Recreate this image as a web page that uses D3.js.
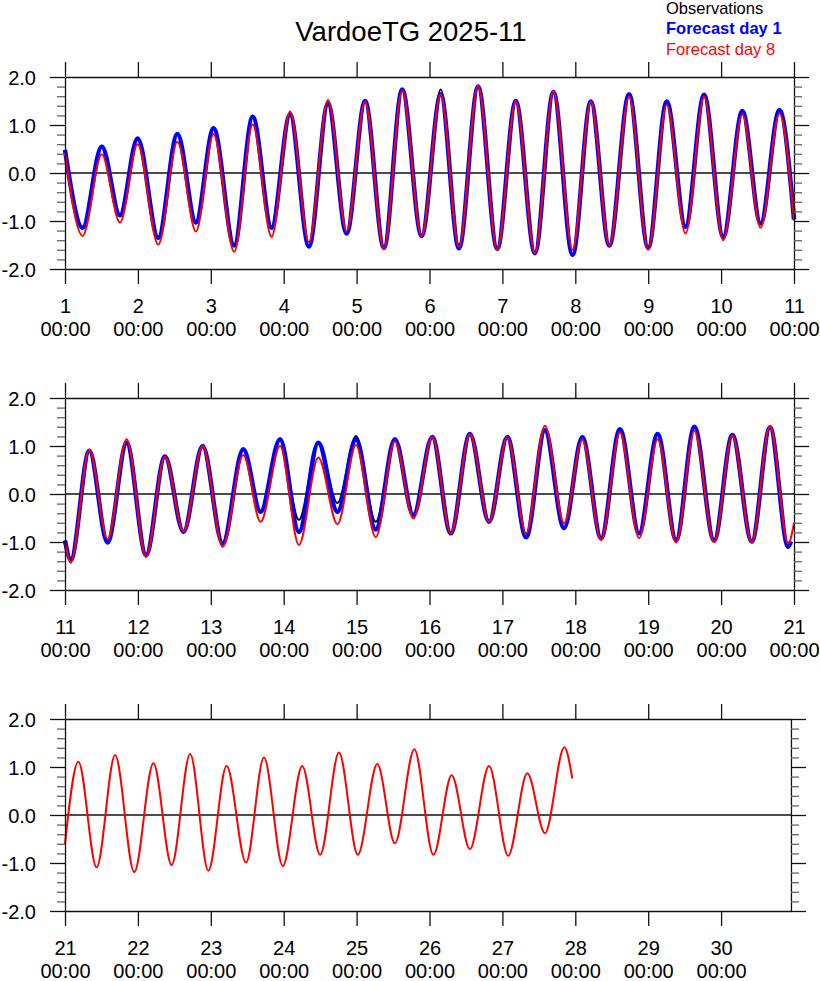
<!DOCTYPE html>
<html>
<head>
<meta charset="utf-8">
<script src="https://cdn.jsdelivr.net/npm/d3@7"></script>
<style>
  html, body { margin: 0; padding: 0; background: #fff; }
  svg { display: block; font-family: "Liberation Sans", Arial, Helvetica, sans-serif; }
  .axis path, .axis line { stroke: #111; stroke-width: 1.3px; }
  .minor line { stroke: #666; stroke-width: 1.3px; }
  .minor path { display: none; }
</style>
</head>
<body>
<script>
// ---------------- DATA (hours since 2025-11-01 00:00, sea level in m) ----------------
const titleText = "VardoeTG 2025-11";
const legendLabels = ["Observations", "Forecast day 1", "Forecast day 8"];
const yTickValues = [-2, -1, 0, 1, 2];
const yTickLabels = ["-2.0", "-1.0", "0.0", "1.0", "2.0"];
const yMinorValues = [-1.8,-1.6,-1.4,-1.2,-0.8,-0.6,-0.4,-0.2,0.2,0.4,0.6,0.8,1.2,1.4,1.6,1.8];
const timeLabel = "00:00";

// turning points (high / low water)
const observations = [
  [0,0.48],[5.8,-1.14],[12.1,0.55],[18.1,-0.88],[23.9,0.72],[30.7,-1.35],[37.0,0.81],[43.1,-1.03],
  [48.9,0.93],[55.7,-1.51],[61.8,1.17],[68.0,-1.14],[74.1,1.22],[80.3,-1.53],[86.6,1.45],[92.7,-1.26],
  [98.8,1.50],[105.0,-1.56],[111.0,1.74],[117.4,-1.31],[123.7,1.74],[129.7,-1.50],[136.0,1.80],[142.3,-1.58],
  [148.4,1.50],[154.7,-1.67],[160.8,1.69],[167.1,-1.71],[173.1,1.49],[179.2,-1.51],[185.7,1.64],[192.0,-1.56],
  [198.1,1.49],[204.3,-1.12],[210.4,1.63],[216.7,-1.33],[223.0,1.29],[229.0,-1.05],[235.2,1.31],[240,-0.97],
  [241.9,-1.37],[248.0,0.90],[254.0,-1.01],[260.3,1.06],[266.7,-1.27],[272.9,0.78],[279.0,-0.79],[285.3,1.00],
  [291.9,-1.03],[298.7,0.93],[304.4,-0.37],[310.8,1.14],[317.0,-0.54],[323.4,1.09],[329.7,-0.19],[335.8,1.21],
  [342.3,-0.58],[348.6,1.14],[354.7,-0.44],[360.9,1.19],[367.0,-0.82],[373.3,1.25],[379.6,-0.58],[385.6,1.19],
  [391.8,-0.90],[398.0,1.33],[404.3,-0.71],[410.3,1.18],[416.5,-0.92],[422.7,1.35],[429.0,-0.82],[435.1,1.25],
  [441.2,-0.96],[447.2,1.40],[453.7,-0.97],[459.7,1.23],[466.1,-0.99],[472.1,1.39],[478.1,-1.10],[479,-0.99]
];
const forecastDay1 = [
  [0,0.48],[5.8,-1.14],[12.1,0.55],[18.1,-0.88],[23.9,0.72],[30.7,-1.35],[37.0,0.81],[43.1,-1.03],
  [48.9,0.93],[55.7,-1.51],[61.8,1.17],[68.0,-1.14],[74.1,1.22],[80.3,-1.53],[86.6,1.45],[92.7,-1.26],
  [98.8,1.50],[105.0,-1.56],[111.0,1.74],[117.4,-1.31],[123.7,1.64],[129.7,-1.57],[136.0,1.80],[142.3,-1.58],
  [148.4,1.50],[154.7,-1.67],[160.8,1.69],[167.1,-1.71],[173.1,1.49],[179.2,-1.51],[185.7,1.64],[192.0,-1.56],
  [198.1,1.49],[204.3,-1.12],[210.4,1.63],[216.7,-1.33],[223.0,1.29],[229.0,-1.05],[235.2,1.31],[240,-0.97],
  [241.9,-1.37],[248.0,0.90],[254.0,-1.01],[260.3,1.06],[266.7,-1.27],[272.9,0.78],[279.0,-0.79],[285.3,1.00],
  [291.9,-1.03],[298.7,0.93],[304.4,-0.37],[310.8,1.14],[317.0,-0.79],[323.4,1.07],[329.7,-0.37],[335.8,1.14],
  [342.3,-0.74],[348.6,1.14],[354.7,-0.44],[360.9,1.19],[367.0,-0.82],[373.3,1.25],[379.6,-0.58],[385.6,1.19],
  [391.8,-0.90],[398.0,1.33],[404.3,-0.71],[410.3,1.18],[416.5,-0.92],[422.7,1.35],[429.0,-0.82],[435.1,1.25],
  [441.2,-0.96],[447.2,1.40],[453.7,-0.97],[459.7,1.23],[466.1,-0.99],[472.1,1.39],[478.1,-1.10],[479,-0.99]
];
const forecastDay8 = [
  [0,0.42],[5.8,-1.31],[12.1,0.39],[18.1,-1.03],[23.9,0.60],[30.7,-1.49],[37.0,0.65],[43.1,-1.22],
  [48.9,0.81],[55.7,-1.64],[61.8,1.01],[68.0,-1.33],[74.1,1.28],[80.3,-1.44],[86.6,1.52],[92.7,-1.21],
  [98.8,1.49],[105.0,-1.59],[111.0,1.72],[117.4,-1.31],[123.7,1.64],[129.7,-1.54],[136.0,1.82],[142.3,-1.60],
  [148.4,1.50],[154.7,-1.67],[160.8,1.71],[167.1,-1.60],[173.1,1.49],[179.2,-1.51],[185.7,1.59],[192.0,-1.60],
  [198.1,1.42],[204.3,-1.26],[210.4,1.59],[216.7,-1.40],[223.0,1.22],[229.0,-1.14],[235.2,1.24],[240,-0.99],
  [241.9,-1.43],[248.0,0.92],[254.0,-0.94],[260.3,1.14],[266.7,-1.31],[272.9,0.78],[279.0,-0.79],[285.3,1.00],
  [291.9,-1.10],[298.7,0.81],[304.4,-0.58],[310.8,1.00],[317.0,-1.06],[323.4,0.76],[329.7,-0.63],[335.8,1.02],
  [342.3,-0.90],[348.6,1.10],[354.7,-0.51],[360.9,1.19],[367.0,-0.82],[373.3,1.25],[379.6,-0.58],[385.6,1.19],
  [391.8,-0.82],[398.0,1.42],[404.3,-0.61],[410.3,1.13],[416.5,-0.96],[422.7,1.28],[429.0,-0.92],[435.1,1.14],
  [441.2,-1.01],[447.2,1.32],[453.7,-1.00],[459.7,1.22],[466.1,-1.01],[472.1,1.42],[478.1,-1.03],[480,-0.60],
  [484.4,1.11],[490.4,-1.09],[496.5,1.25],[502.8,-1.19],[509.1,1.08],[515.1,-1.04],[521.2,1.27],[527.2,-1.16],
  [533.2,1.02],[539.6,-0.99],[545.5,1.20],[551.7,-1.06],[558.1,1.02],[564.0,-0.83],[570.2,1.30],[576.4,-0.83],
  [582.8,1.06],[588.6,-0.59],[595.0,1.37],[601.3,-0.83],[607.3,0.83],[613.3,-0.71],[619.6,1.02],[625.9,-0.85],
  [632.2,0.87],[638.0,-0.38],[644.4,1.41],[647,0.76]
];

// panel time windows (hours since Nov 1 00:00)
const panelStarts = [0, 240, 480];
const panelEnds = [240, 480, 719];

// ---------------- DRAWING ----------------
const W = 820, H = 981;
const svg = d3.select("body").append("svg").attr("width", W).attr("height", H);

const series = [
  { data: observations, color: "#000000", width: 2 },
  { data: forecastDay1, color: "#0000ff", width: 4.5 },
  { data: forecastDay8, color: "#ff0000", width: 2 }
];

const plotLeft = 65, pxPerHour = 729 / 240;
const panelTops = [77, 398, 719];
const panelH = 192;

panelStarts.forEach((t0, i) => {
  const t1 = panelEnds[i];
  const top = panelTops[i], bottom = top + panelH;
  const right = plotLeft + (t1 - t0) * pxPerHour;
  const x = d3.scaleLinear().domain([t0, t1]).range([plotLeft, right]);
  const y = d3.scaleLinear().domain([-2, 2]).range([bottom, top]);
  const g = svg.append("g");

  // zero line
  g.append("line").attr("x1", plotLeft).attr("x2", right)
    .attr("y1", y(0)).attr("y2", y(0)).attr("stroke", "#111").attr("stroke-width", 1.3);

  // series
  const line = d3.line().x(d => x(d[0])).y(d => y(d[1])).curve(d3.curveMonotoneX);
  series.forEach(s => {
    const pts = s.data.filter(d => d[0] >= t0 && d[0] <= t1);
    if (pts.length < 2) return;
    g.append("path").datum(pts).attr("d", line)
      .attr("fill", "none").attr("stroke", s.color).attr("stroke-width", s.width)
      .attr("stroke-linejoin", "round").attr("stroke-linecap", "butt");
  });

  const dayTicks = d3.range(t0, t1 + 0.001, 24);

  // top axis
  g.append("g").attr("class", "axis").attr("transform", `translate(0,${top})`)
    .call(d3.axisTop(x).tickValues(dayTicks).tickSize(15).tickSizeOuter(0).tickFormat(""));
  // bottom axis
  const bx = g.append("g").attr("class", "axis").attr("transform", `translate(0,${bottom})`)
    .call(d3.axisBottom(x).tickValues(dayTicks).tickSize(15).tickSizeOuter(0).tickFormat(""));
  bx.selectAll(".tick text").remove();
  bx.selectAll(".tick").each(function(d) {
    const t = d3.select(this);
    t.append("text").attr("y", 44).attr("text-anchor", "middle").attr("fill", "#000")
      .attr("font-size", 20).text(String(Math.round(d / 24) + 1));
    t.append("text").attr("y", 67).attr("text-anchor", "middle").attr("fill", "#000")
      .attr("font-size", 20).text(timeLabel);
  });

  // left axis
  const ly = g.append("g").attr("class", "axis").attr("transform", `translate(${plotLeft},0)`)
    .call(d3.axisLeft(y).tickValues(yTickValues).tickSize(15).tickSizeOuter(0).tickPadding(14)
      .tickFormat((d, k) => yTickLabels[k]));
  ly.selectAll("text").attr("font-size", 20).attr("fill", "#000").attr("dy", "0.35em");
  g.append("g").attr("class", "minor").attr("transform", `translate(${plotLeft},0)`)
    .call(d3.axisLeft(y).tickValues(yMinorValues).tickSize(8).tickSizeOuter(0).tickFormat(""));

  // right axis
  g.append("g").attr("class", "axis").attr("transform", `translate(${right},0)`)
    .call(d3.axisRight(y).tickValues(yTickValues).tickSize(15).tickSizeOuter(0).tickFormat(""));
  g.append("g").attr("class", "minor").attr("transform", `translate(${right},0)`)
    .call(d3.axisRight(y).tickValues(yMinorValues).tickSize(8).tickSizeOuter(0).tickFormat(""));

  g.selectAll(".axis, .minor").attr("font-family", null).attr("font-size", null);
});

// title
svg.append("text").attr("x", 411).attr("y", 41).attr("text-anchor", "middle")
  .attr("font-size", 27.5).attr("fill", "#000").text(titleText);

// legend
const legendColors = ["#000000", "#0000ff", "#ff0000"];
const legendWeights = ["normal", "bold", "normal"];
const legendBaselines = [13.5, 34, 54.5];
legendLabels.forEach((lab, k) => {
  svg.append("text").attr("x", 666).attr("y", legendBaselines[k])
    .attr("font-size", 16.5).attr("font-weight", legendWeights[k])
    .attr("fill", legendColors[k]).text(lab);
});
</script>
</body>
</html>
